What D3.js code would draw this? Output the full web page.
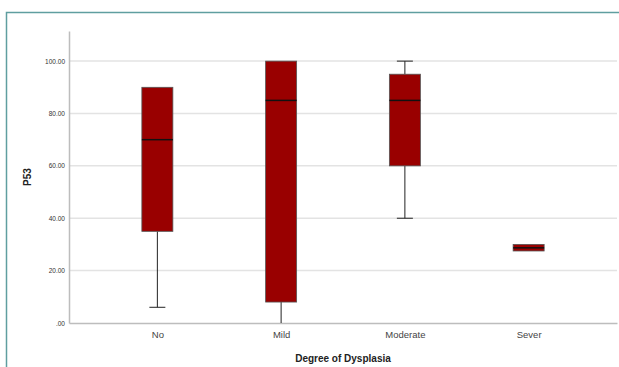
<!DOCTYPE html>
<html>
<head>
<meta charset="utf-8">
<script src="https://cdn.jsdelivr.net/npm/d3@7"></script>
<style>
  body { margin: 0; background: #fff; }
  svg { display: block; font-family: Arial, "Liberation Sans", sans-serif; }
</style>
</head>
<body>
<div id="chart"></div>
<script>
// box plot stats
const categories = ["No", "Mild", "Moderate", "Sever"];
const whiskerLow = [6, 0, 40, 27.5];
const q1 = [35, 8, 60, 27.5];
const median = [70, 85, 85, 28.7];
const q3 = [90, 100, 95, 30];
const whiskerHigh = [90, 100, 100, 30];
const yTicks = [0, 20, 40, 60, 80, 100];

const width = 619, height = 367;
const marginLeft = 69, marginRight = 2, marginTop = 31, marginBottom = 44;

const boxes = categories.map((c, i) => ({
    cat: c, lo: whiskerLow[i], q1: q1[i], med: median[i], q3: q3[i], hi: whiskerHigh[i]
}));

const svg = d3.select("#chart").append("svg")
    .attr("width", width)
    .attr("height", height);

// outer frame
svg.append("rect")
    .attr("x", 6.5).attr("y", 12.5)
    .attr("width", width + 10).attr("height", height + 10)
    .attr("fill", "none")
    .attr("stroke", "#5f9ea0")
    .attr("stroke-width", 1.5);

const x = d3.scalePoint()
    .domain(categories)
    .range([marginLeft, width - marginRight])
    .padding(0.714);

const y = d3.scaleLinear()
    .domain([0, 111.5])
    .range([height - marginBottom, marginTop]);

// gridlines
svg.append("g")
    .selectAll("line")
    .data(yTicks.filter(d => d > 0))
    .join("line")
    .attr("x1", marginLeft)
    .attr("x2", width - marginRight)
    .attr("y1", d => y(d))
    .attr("y2", d => y(d))
    .attr("stroke", "#e3e3e3")
    .attr("stroke-width", 1.5);

// y axis
svg.append("g")
    .attr("transform", `translate(${marginLeft},0)`)
    .call(d3.axisLeft(y).tickValues(yTicks).tickSize(0).tickPadding(4)
        .tickFormat(d => d === 0 ? ".00" : d3.format(".2f")(d)))
    .call(g => g.select(".domain").attr("stroke", "#bdbdbd").attr("stroke-width", 1.5))
    .call(g => g.selectAll(".tick text").attr("font-size", 6.5).attr("fill", "#333"));

// x axis
svg.append("g")
    .attr("transform", `translate(0,${height - marginBottom})`)
    .call(d3.axisBottom(x).tickSize(0).tickPadding(8).tickSizeOuter(0))
    .call(g => g.select(".domain").attr("stroke", "#bdbdbd").attr("stroke-width", 1.5))
    .call(g => g.selectAll(".tick text").attr("font-size", 9.5).attr("fill", "#444"));

const boxW = 31, capW = 16;

const g = svg.append("g")
    .selectAll("g")
    .data(boxes)
    .join("g")
    .attr("transform", d => `translate(${x(d.cat)},0)`);

// whiskers
g.append("line")
    .attr("y1", d => y(d.lo)).attr("y2", d => y(d.q1))
    .attr("stroke", "#222").attr("stroke-width", 1);
g.append("line")
    .attr("y1", d => y(d.q3)).attr("y2", d => y(d.hi))
    .attr("stroke", "#222").attr("stroke-width", 1);

// caps
g.filter(d => d.lo < d.q1 && d.lo > 0).append("line")
    .attr("x1", -capW / 2).attr("x2", capW / 2)
    .attr("y1", d => y(d.lo)).attr("y2", d => y(d.lo))
    .attr("stroke", "#222");
g.filter(d => d.hi > d.q3).append("line")
    .attr("x1", -capW / 2).attr("x2", capW / 2)
    .attr("y1", d => y(d.hi)).attr("y2", d => y(d.hi))
    .attr("stroke", "#222");

// boxes
g.append("rect")
    .attr("x", -boxW / 2)
    .attr("width", boxW)
    .attr("y", d => y(d.q3))
    .attr("height", d => y(d.q1) - y(d.q3))
    .attr("fill", "#990000")
    .attr("stroke", "#555")
    .attr("stroke-width", 0.8);

// medians
g.append("line")
    .attr("x1", -boxW / 2).attr("x2", boxW / 2)
    .attr("y1", d => y(d.med)).attr("y2", d => y(d.med))
    .attr("stroke", "#111").attr("stroke-width", 1.5);

// titles
svg.append("text")
    .attr("x", 343).attr("y", 362)
    .attr("text-anchor", "middle")
    .attr("font-size", 10).attr("font-weight", "bold").attr("fill", "#222")
    .text("Degree of Dysplasia");

svg.append("text")
    .attr("transform", "translate(31,177) rotate(-90)")
    .attr("text-anchor", "middle")
    .attr("font-size", 10).attr("font-weight", "bold").attr("fill", "#222")
    .text("P53");
</script>
</body>
</html>
